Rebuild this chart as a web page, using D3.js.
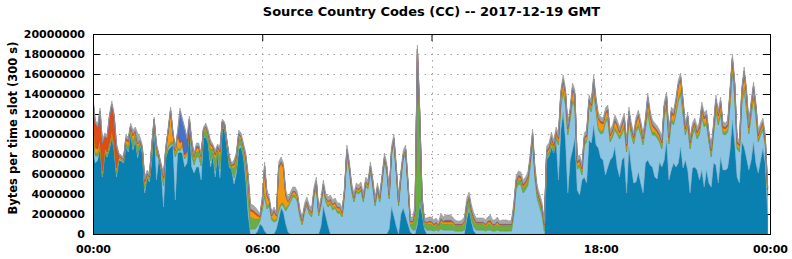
<!DOCTYPE html>
<html lang="en">
<head>
<meta charset="UTF-8">
<title>Source Country Codes (CC)</title>
<script src="https://d3js.org/d3.v7.min.js"></script>
<style>
    body { margin: 0; background: #fff; }
    svg { display: block; font-family: "DejaVu Sans", sans-serif; font-weight: bold; }
</style>
</head>
<body>
<svg id="chart" width="792" height="259"></svg>
<script>
// bytes per 300 s slot, in units of 100 000 bytes; slot 0 = 00:00 GMT, 288 slots
const darkBlue = [
    85,71,74,87,57,81,77,85,97,84, 57,74,73,71,87,82,101,84,94,76,
    89,81,41,57,52,74,111,54,76,64, 27,77,84,87,89,34,81,82,81,67,
    71,111,67,61,67,67,54,96,97,91, 67,80,57,83,56,107,104,87,67,64,
    50,61,85,87,77,54,20,0,0,0, 3,10,8,3,0,0,0,0,5,15,
    26,22,10,2,0,0,0,0,0,0, 0,0,0,0,0,0,0,8,28,18,
    8,0,0,0,0,0,0,0,0,0, 0,0,0,0,0,0,0,0,0,0,
    0,0,0,0,0,0,5,27,18,8, 0,20,26,18,10,2,0,0,10,30,
    20,5,0,0,0,0,0,0,0,0, 0,0,0,0,0,0,0,0,0,15,
    25,12,3,0,0,0,0,0,0,0, 0,0,0,0,0,0,0,0,0,0,
    0,0,0,0,0,0,0,0,0,0, 0,0,0,75,78,87,81,94,54,104,
    122,94,41,74,84,96,44,39,54,57, 51,94,91,109,89,86,76,74,59,67,
    74,77,87,67,57,74,77,41,87,67, 51,52,62,51,41,71,74,69,67,57,
    55,72,67,74,94,54,64,71,67,71, 87,66,74,64,41,66,67,64,54,64,
    47,64,51,47,71,69,51,77,64,64, 66,84,114,91,57,51,92,87,76,64,
    74,92,71,61,74,86,70,20
];
const lightBlue = [
    13,7,4,1,1,1,1,1,1,1, 3,2,1,1,1,2,1,3,2,3,
    1,1,4,1,2,4,1,24,0,1, 21,1,2,2,1,43,3,1,8,8,
    8,0,11,8,10,10,14,1,1,1, 6,1,6,0,9,1,1,1,2,0,
    6,5,3,2,2,8,12,5,5,5, 5,3,16,35,25,28,14,12,8,8,
    3,6,13,25,32,37,37,32,17,9, 22,28,20,17,37,47,18,20,17,14,
    19,30,24,26,21,21,17,39,79,64, 43,32,42,40,43,32,48,45,63,48,
    28,42,32,52,72,62,30,52,73,53, 28,35,49,62,36,6,4,4,4,4,
    3,2,4,4,4,3,4,3,5,4, 4,4,4,4,3,3,3,3,4,4,
    4,3,4,4,4,4,4,3,4,4, 3,3,4,3,3,3,3,3,3,18,
    45,50,49,41,44,49,67,92,55,35, 27,19,3,1,1,3,1,1,35,23,
    20,35,58,41,48,31,21,28,5,32, 41,33,31,33,33,18,24,27,53,47,
    18,20,17,33,38,26,29,41,28,32, 39,50,45,48,48,34,48,38,32,42,
    41,20,18,44,33,36,48,38,53,62, 53,54,25,44,44,33,37,31,46,53,
    60,46,41,30,29,53,58,43,36,35, 36,45,49,46,28,31,38,57,49,36,
    45,43,46,31,25,18,18,18
];
const green = [
    5,3,3,3,2,2,2,3,3,3, 3,1,1,1,3,4,2,6,4,8,
    2,2,3,1,2,4,1,4,1,1, 3,3,2,3,2,3,3,2,1,1,
    1,2,8,5,5,6,6,6,7,6, 12,4,12,3,12,3,3,2,4,3,
    10,8,8,6,5,6,10,12,11,10, 7,3,3,3,3,3,3,2,2,3,
    2,3,3,2,2,2,2,2,2,2, 2,2,2,2,2,2,2,2,2,2,
    2,2,2,2,2,2,2,2,3,2, 2,2,2,2,2,2,2,2,2,2,
    2,2,2,2,2,2,2,2,2,2, 2,2,2,2,2,2,6,15,165,80,
    10,4,6,6,6,5,6,4,7,6, 6,6,6,6,5,5,5,5,6,8,
    6,6,6,6,6,6,6,5,6,6, 5,5,6,5,5,5,5,5,5,5,
    5,5,5,5,5,5,5,5,5,5, 5,5,5,3,3,3,3,3,3,3,
    3,3,3,3,3,3,3,3,3,3, 3,3,3,3,3,3,3,3,3,3,
    3,3,3,3,3,3,3,3,3,3, 3,3,3,3,3,3,3,3,3,3,
    3,3,3,3,3,3,3,3,3,3, 3,3,3,3,3,3,3,3,3,3,
    3,3,3,3,3,3,3,3,3,3, 3,3,3,3,3,3,3,3,3,3,
    3,3,3,3,3,3,3,3
];
const orange = [
    15,5,4,4,3,2,2,3,3,3, 3,1,1,1,3,4,3,5,3,3,
    1,1,4,1,1,4,1,4,1,1, 5,3,15,30,8,3,12,6,3,3,
    2,1,4,3,4,3,3,1,2,2, 4,2,4,1,5,1,1,1,2,1,
    3,3,3,2,3,8,12,6,6,5, 3,1,5,25,10,2,1,8,3,40,
    40,35,12,3,3,3,3,3,2,2, 2,2,2,2,3,3,2,2,2,2,
    3,2,3,3,3,3,2,2,2,3, 2,2,2,2,2,2,2,2,2,2,
    2,2,2,2,2,2,2,2,2,2, 2,2,2,2,2,2,2,3,4,5,
    2,1,1,2,2,1,1,1,2,2, 2,2,2,2,1,1,1,1,2,2,
    2,2,2,1,1,1,1,1,2,2, 1,1,2,1,1,1,1,1,1,2,
    2,2,2,2,2,2,2,2,2,2, 2,2,1,3,3,3,3,3,3,8,
    8,8,3,3,10,8,3,3,3,3, 3,3,3,8,6,8,8,6,5,6,
    3,3,6,5,3,5,6,3,3,3, 3,6,8,6,3,3,10,8,6,3,
    3,3,3,5,6,3,6,6,8,12, 12,8,3,5,3,3,3,3,3,6,
    5,5,3,3,3,8,6,8,3,3, 3,8,8,8,3,3,8,14,12,3,
    6,8,6,3,3,3,3,3
];
const red = [
    15,25,22,28,28,12,14,25,26,27, 22,1,1,1,2,2,1,2,1,1,
    1,1,2,1,1,2,1,2,1,1, 2,2,1,2,1,1,2,2,1,1,
    1,1,2,1,2,2,1,1,1,1, 2,1,2,1,2,1,1,1,1,1,
    2,2,2,1,1,2,3,2,2,2, 2,1,2,2,2,1,1,2,1,2,
    2,2,2,1,1,1,1,1,1,1, 1,1,1,1,1,1,1,1,1,1,
    1,1,1,1,1,1,1,1,1,1, 1,1,1,1,1,1,1,1,1,1,
    1,1,1,1,1,1,1,1,1,1, 1,1,1,1,1,1,1,2,2,2,
    1,1,1,1,1,1,1,1,2,1, 2,2,2,1,1,1,1,1,1,2,
    1,2,2,1,1,1,1,1,1,2, 1,1,1,1,1,1,1,1,1,2,
    2,2,2,2,2,2,2,2,2,2, 2,2,1,2,2,2,2,2,2,2,
    2,2,2,2,2,2,2,2,2,2, 2,2,2,2,2,2,2,2,2,2,
    2,2,2,2,2,2,2,2,2,2, 2,2,2,2,2,2,2,2,2,2,
    2,2,2,2,2,2,2,2,2,2, 2,2,2,2,2,2,2,2,2,2,
    2,2,2,2,2,2,2,2,2,2, 2,2,2,2,2,2,2,2,2,2,
    2,2,2,2,2,2,2,2
];
const royalBlue = [
    0,0,0,0,0,0,0,0,0,0, 0,0,0,0,0,0,0,0,0,0,
    0,0,0,0,0,0,0,0,0,0, 0,0,0,0,0,0,0,30,20,25,
    12,0,0,0,0,0,0,0,0,0, 0,0,0,0,0,0,0,0,0,0,
    0,0,0,0,0,0,0,0,0,0, 0,0,0,0,0,0,0,0,0,0,
    0,0,0,0,0,0,0,0,0,0, 0,0,0,0,0,0,0,0,0,0,
    0,0,0,0,0,0,0,0,0,0, 0,0,0,0,0,0,0,0,0,0,
    0,0,0,0,0,0,0,0,0,0, 0,0,0,0,0,0,0,0,0,0,
    0,0,0,0,0,0,0,0,0,0, 0,0,0,0,0,0,0,0,0,0,
    0,0,0,0,0,0,0,0,0,0, 0,0,0,0,0,0,0,0,0,0,
    0,0,0,0,0,0,0,0,0,0, 0,0,0,0,0,0,0,0,0,0,
    0,0,0,0,0,0,0,0,0,0, 0,0,0,0,0,0,0,0,0,0,
    0,0,0,0,0,0,0,0,0,0, 0,0,0,0,0,0,0,0,0,0,
    0,0,0,0,0,0,0,0,0,0, 0,0,0,0,0,0,0,0,0,0,
    0,0,0,0,0,0,0,0,0,0, 0,0,0,0,0,0,0,0,0,0,
    0,0,0,0,0,0,0,0
];
const gray = [
    5,3,3,3,3,3,3,3,3,3, 3,2,2,2,3,3,3,4,3,10,
    3,3,3,3,3,3,2,3,2,3, 3,3,3,3,3,3,3,3,2,2,
    2,3,4,3,3,3,3,2,3,3, 3,2,3,2,3,2,2,2,3,2,
    3,3,3,3,3,3,4,5,5,5, 4,2,3,4,4,3,3,3,3,4,
    4,3,4,4,4,4,4,4,4,3, 4,4,4,4,4,4,4,4,4,4,
    4,4,4,4,4,4,4,4,4,4, 4,4,4,4,4,4,4,4,4,4,
    4,4,4,4,4,4,4,4,4,4, 4,4,4,4,4,4,4,6,4,4,
    4,3,4,4,4,4,4,3,5,4, 5,5,5,4,4,3,3,4,4,5,
    4,4,4,4,4,4,4,4,4,5, 4,4,4,3,4,4,4,3,4,4,
    4,4,4,4,4,4,4,4,4,4, 4,4,4,4,4,4,4,4,4,4,
    4,4,4,4,4,4,4,4,4,4, 4,4,4,4,4,4,4,4,4,4,
    4,4,4,4,4,4,4,4,4,4, 4,4,4,4,4,4,4,4,4,4,
    4,4,4,4,4,4,4,4,4,4, 4,4,4,4,4,4,4,4,4,4,
    4,4,4,4,4,4,4,4,4,4, 4,4,4,4,4,4,4,4,4,4,
    4,4,4,4,4,4,4,4
];

const yTicks = [0, 2000000, 4000000, 6000000, 8000000, 10000000,
                12000000, 14000000, 16000000, 18000000, 20000000];
const xTicks = [0, 21600, 43200, 64800, 86400];          // seconds of the day
const xTickLabels = ["00:00", "06:00", "12:00", "18:00", "00:00"];

const titleText = "Source Country Codes (CC) -- 2017-12-19 GMT";
const yLabelText = "Bytes per time slot (300 s)";

const unit = 100000;
const slotSeconds = 300;

// bottom to top
const layers = [
    { key: "darkBlue",  values: darkBlue,  color: "#0a80b0" },
    { key: "lightBlue", values: lightBlue, color: "#8ec5e3" },
    { key: "green",     values: green,     color: "#68ae45" },
    { key: "orange",    values: orange,    color: "#f29a10" },
    { key: "red",       values: red,       color: "#df4c16" },
    { key: "royalBlue", values: royalBlue, color: "#4472cc" },
    { key: "gray",      values: gray,      color: "#a6a6a6" }
];

const plotLeft = 93, plotRight = 770, plotTop = 34, plotBottom = 234;

const svg = d3.select("#chart");

const x = d3.scaleLinear().domain([0, 86400]).range([plotLeft, plotRight]);
const y = d3.scaleLinear().domain([0, 20000000]).range([plotBottom, plotTop]);

const rows = darkBlue.map((_, i) => {
    const r = { t: i * slotSeconds };
    layers.forEach(l => r[l.key] = l.values[i] * unit);
    return r;
});
const series = d3.stack().keys(layers.map(l => l.key))(rows);
const colorOf = {};
layers.forEach(l => colorOf[l.key] = l.color);

// grid
const grid = svg.append("g")
    .attr("stroke", "#a0a0a0")
    .attr("stroke-width", 1)
    .attr("stroke-dasharray", "1.5,5");
grid.selectAll("line.h")
    .data(yTicks.slice(1, -1))
    .enter().append("line")
    .attr("x1", plotLeft).attr("x2", plotRight)
    .attr("y1", d => Math.round(y(d)) + 0.5).attr("y2", d => Math.round(y(d)) + 0.5);
grid.selectAll("line.v")
    .data(xTicks.slice(1, -1))
    .enter().append("line")
    .attr("y1", plotTop).attr("y2", plotBottom)
    .attr("x1", d => Math.round(x(d)) + 0.5).attr("x2", d => Math.round(x(d)) + 0.5);

// axes (ticks point inward)
const yFmt = d3.format("d");
const axL = svg.append("g").attr("transform", `translate(${plotLeft},0)`)
    .call(d3.axisLeft(y).tickValues(yTicks).tickSize(-7).tickPadding(8).tickFormat(yFmt));
const axR = svg.append("g").attr("transform", `translate(${plotRight},0)`)
    .call(d3.axisRight(y).tickValues(yTicks).tickSize(-7).tickFormat(""));
const axT = svg.append("g").attr("transform", `translate(0,${plotTop})`)
    .call(d3.axisTop(x).tickValues(xTicks).tickSize(-7).tickFormat(""));
const axB = svg.append("g").attr("transform", `translate(0,${plotBottom})`)
    .call(d3.axisBottom(x).tickValues(xTicks).tickSize(-7).tickPadding(11)
        .tickFormat((d, i) => xTickLabels[i]));
[axL, axR, axT, axB].forEach(a => {
    a.select(".domain").remove();
    a.selectAll("line").attr("stroke", "#000");
    a.selectAll("text")
        .attr("fill", "#000")
        .style("font-family", "'DejaVu Sans', sans-serif")
        .style("font-weight", "bold")
        .style("font-size", "11px");
});

// stacked areas
svg.append("clipPath").attr("id", "plot-clip")
    .append("rect").attr("x", plotLeft).attr("y", plotTop)
    .attr("width", plotRight - plotLeft).attr("height", plotBottom - plotTop);

const area = d3.area()
    .x(d => x(d.data.t))
    .y0(d => y(d[0]))
    .y1(d => y(d[1]));

svg.append("g").attr("clip-path", "url(#plot-clip)")
    .selectAll("path")
    .data(series)
    .enter().append("path")
    .attr("d", area)
    .attr("fill", d => colorOf[d.key])
    .attr("stroke", d => d3.color(colorOf[d.key]).darker(0.35))
    .attr("stroke-width", 0.6);

// border
svg.append("rect")
    .attr("x", plotLeft + 0.5).attr("y", plotTop + 0.5)
    .attr("width", plotRight - plotLeft).attr("height", plotBottom - plotTop)
    .attr("fill", "none").attr("stroke", "#000").attr("stroke-width", 1);

// title and y label
svg.append("text")
    .attr("x", (plotLeft + plotRight) / 2).attr("y", 16)
    .attr("text-anchor", "middle")
    .style("font-size", "13px")
    .text(titleText);

svg.append("text")
    .attr("transform", "translate(17,128) rotate(-90)")
    .attr("text-anchor", "middle")
    .style("font-size", "11.5px")
    .text(yLabelText);
</script>
</body>
</html>
